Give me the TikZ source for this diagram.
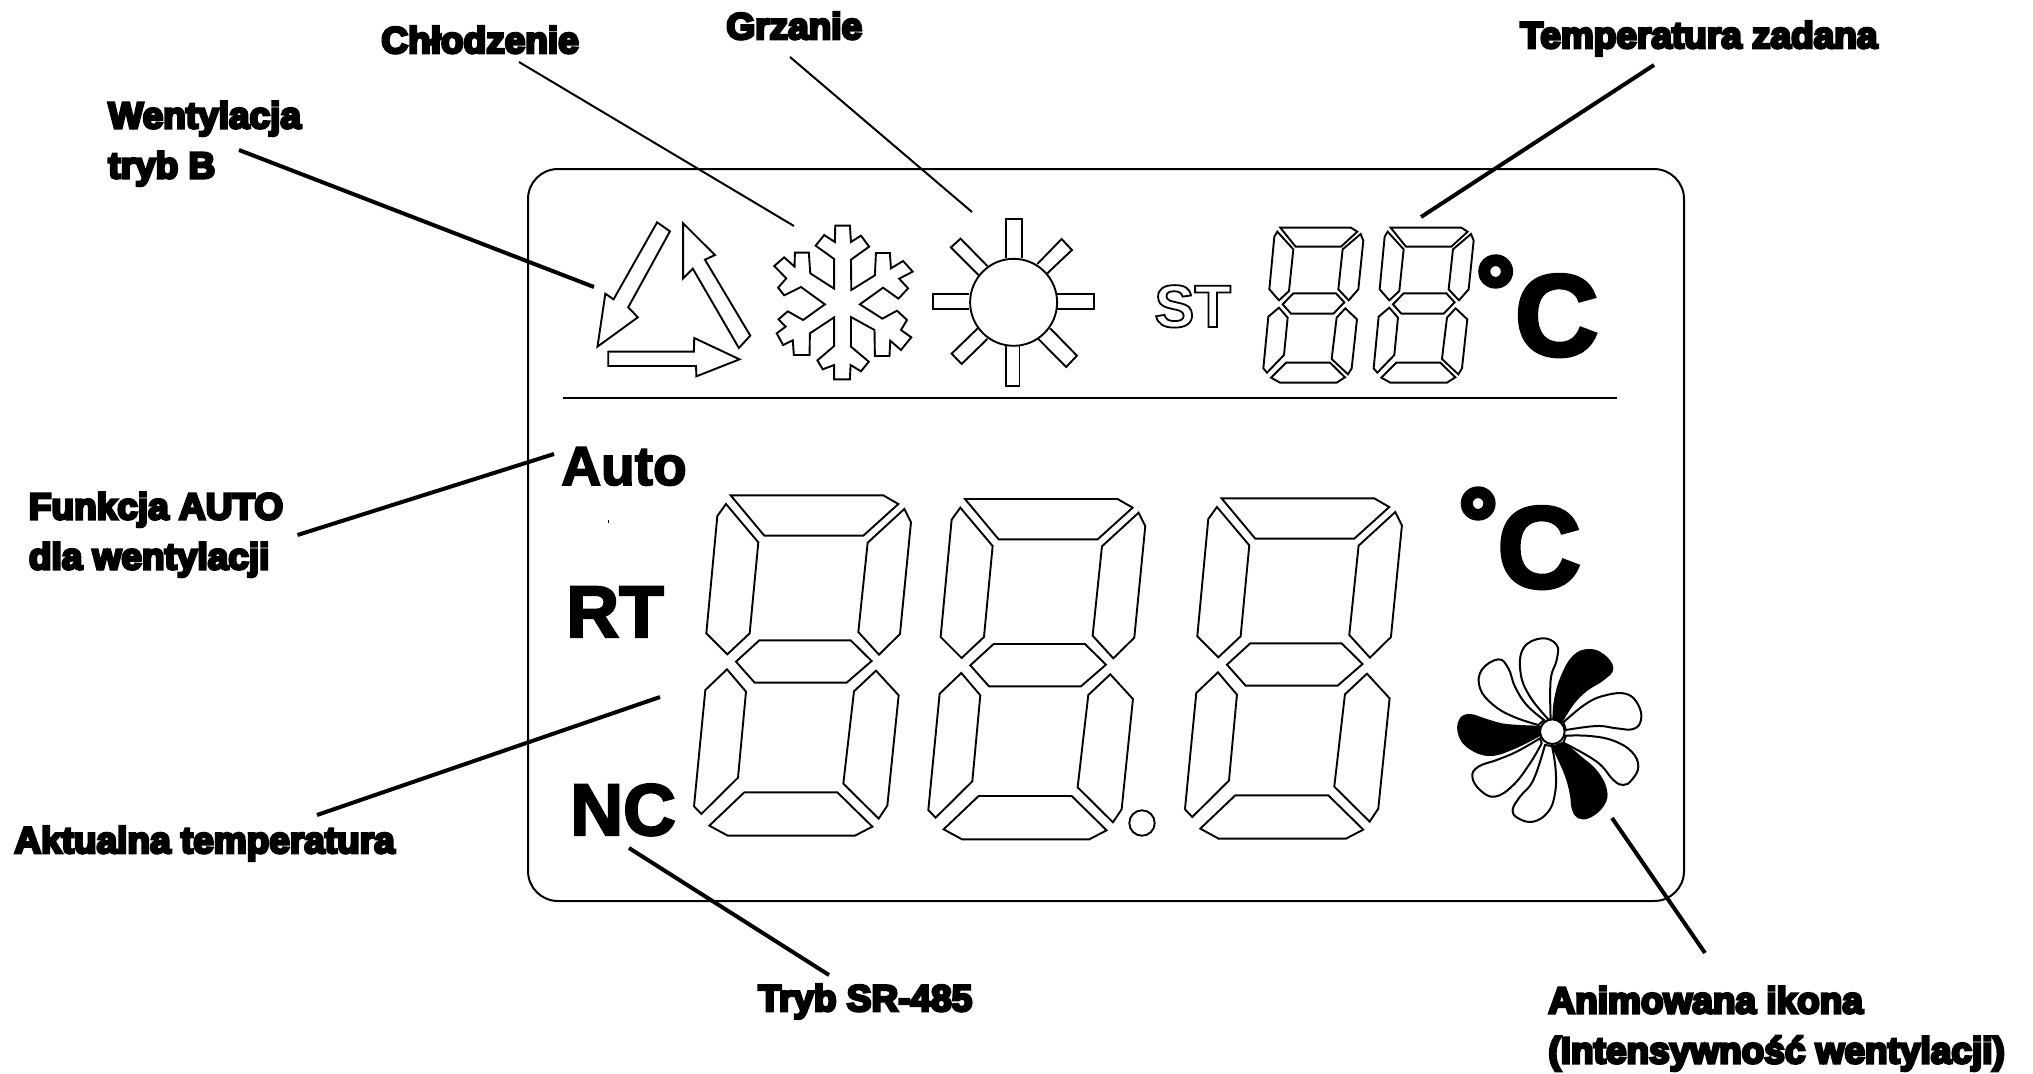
\documentclass[tikz,border=0pt]{standalone}
\usepackage{fontspec}
\setmainfont{Liberation Sans}
\newfontfamily\lblfont{Liberation Sans Bold}[FakeBold=7.5]
\newfontfamily\degfont{Liberation Sans Bold}[FakeBold=5]
\newfontfamily\lcdfont{Liberation Sans Bold}[FakeBold=3]
\newcommand{\degC}{{\degfont\fontsize{48}{48}\selectfont\raisebox{16pt}{°}}C}
\tikzset{
  seg/.style={draw,line width=0.95pt,line join=miter},
  leadthick/.style={line width=2pt},
  leadthin/.style={line width=1pt},
  lbl/.style={inner sep=0pt,anchor=base west,font=\lblfont\fontsize{18.5}{25}\selectfont},
  lbltwo/.style={inner sep=0pt,anchor=north west,align=left,font=\lblfont\fontsize{18.5}{25}\selectfont},
  lcd/.style={inner sep=0pt,anchor=base west,font=\lcdfont\fontsize{#1}{#1}\selectfont},
  petal/.style={draw,line width=1pt,fill=white},
  blackpetal/.style={draw,line width=1pt,fill=black}
}
\begin{document}
\begin{tikzpicture}[x=0.5pt,y=-0.5pt]
\useasboundingbox (0,0) rectangle (2033,1073);
\draw[line width=1pt,rounded corners=15pt] (528,169) rectangle (1684,901);
\draw[line width=1.1pt] (563,398) -- (1617,398);
\fill (607.5,520) rectangle ++(1,3);

\node[lbl] (chlodzenie) at (381,53) {Chłodzenie};
\node[lbl] (grzanie) at (726,39) {Grzanie};
\node[lbltwo] (wentylacja) at (108,101) {Wentylacja\\tryb B};
\node[lbl] (zadana) at (1520,48) {Temperatura zadana};
\node[lbltwo] (funkcja) at (28.5,492) {Funkcja AUTO\\dla wentylacji};
\node[lbl] (aktualna) at (14,853) {Aktualna temperatura};
\node[lbl] (tryb) at (758,1011) {Tryb SR-485};
\node[lbltwo] (animowana) at (1548,986) {Animowana ikona\\(Intensywność wentylacji)};

\node[lcd=27.5] (auto) at (561,485) {Auto};
\node[lcd=36.5] (rt) at (566,637) {RT};
\node[lcd=36.5] (nc) at (570,835) {NC};
\node[lcd=58] (tempzadC) at (1476,355.5) {\degC};
\node[lcd=58] (tempaktC) at (1458.5,587.5) {\degC};
\node[inner sep=0pt,anchor=base west,font=\bfseries\fontsize{30}{30}\selectfont] (st) at (1154,327)
  {\special{pdf:code 1 Tr 0.9 w}ST\special{pdf:code 0 Tr}};

\coordinate (wentylacjaA) at (239,150);
\coordinate (wentylacjaB) at (594,287);
\coordinate (chlodzenieA) at (519,62);
\coordinate (chlodzenieB) at (794,226);
\coordinate (grzanieA) at (790,57);
\coordinate (grzanieB) at (972,212);
\coordinate (zadanaA) at (1654,65);
\coordinate (zadanaB) at (1421,217);
\coordinate (funkcjaA) at (297.5,535);
\coordinate (funkcjaB) at (554,454);
\coordinate (aktualnaA) at (317,815);
\coordinate (aktualnaB) at (660,697);
\coordinate (trybA) at (829,975);
\coordinate (trybB) at (629,848);
\coordinate (animowanaA) at (1705,953);
\coordinate (animowanaB) at (1612,818);
\draw[leadthick] (wentylacjaA) -- (wentylacjaB);
\draw[leadthin] (chlodzenieA) -- (chlodzenieB);
\draw[leadthin] (grzanieA) -- (grzanieB);
\draw[leadthick] (zadanaA) -- (zadanaB);
\draw[leadthick] (funkcjaA) -- (funkcjaB);
\draw[leadthick] (aktualnaA) -- (aktualnaB);
\draw[leadthick] (trybA) -- (trybB);
\draw[leadthick] (animowanaA) -- (animowanaB);

\foreach \dx/\dy in {0/0,703/11,1473/9}{
\begin{scope}[shift={(680,480)},scale=0.3333,shift={(\dx,\dy)}]
\draw[seg] (152,46) -- (610,46) -- (655,72) -- (550,167) -- (253,167) -- cycle;
\draw[seg] (138,72) -- (235,187) -- (209,460) -- (142,523) -- (79,460) -- (112,108) -- cycle;
\draw[seg] (673,87) -- (693,127) -- (660,462) -- (597,524) -- (535,456) -- (563,188) -- cycle;
\draw[seg] (238,481) -- (512,481) -- (575,543) -- (500,608) -- (224,608) -- (168,545) -- cycle;
\draw[seg] (141,568) -- (198,635) -- (174,893) -- (64,1002) -- (42,979) -- (76,630) -- cycle;
\draw[seg] (588,572) -- (656,646) -- (622,977) -- (596,1016) -- (490,911) -- (522,634) -- cycle;
\draw[seg] (193,937) -- (472,937) -- (577,1040) -- (525,1067) -- (143,1067) -- (88,1037) -- cycle;
\end{scope}
}
\draw[seg] (1142,823) circle[radius=12.7];

\foreach \dx in {0,331}{
\begin{scope}[shift={(1120,190)},scale=0.3333,shift={(\dx,0)}]
\draw[seg] (481,113) -- (693,113) -- (712,125) -- (663,170) -- (527,170) -- cycle;
\draw[seg] (472,125) -- (520,178) -- (507,303) -- (477,331) -- (448,298) -- (463,140) -- cycle;
\draw[seg] (722,132) -- (730,152) -- (715,298) -- (686,331) -- (655,298) -- (668,178) -- cycle;
\draw[seg] (520,310) -- (648,310) -- (673,337) -- (640,371) -- (513,371) -- (488,343) -- cycle;
\draw[seg] (477,353) -- (503,383) -- (492,495) -- (441,548) -- (430,535) -- (445,380) -- cycle;
\draw[seg] (676,355) -- (711,388) -- (695,535) -- (684,553) -- (635,507) -- (650,383) -- cycle;
\draw[seg] (498,518) -- (630,518) -- (675,562) -- (650,578) -- (480,578) -- (453,563) -- cycle;
\end{scope}
}

\begin{scope}[shift={(560,190)},xscale=0.357,yscale=0.3333]
\draw[seg] (272,97) -- (308,124) -- (191,352) -- (218,382) -- (105,470) -- (127,311) -- (150,328) -- cycle;
\draw[seg] (345,100) -- (434,195) -- (406,209) -- (533,437) -- (501,474) -- (372,236) -- (345,265) -- cycle;
\draw[seg] (135,485) -- (375,485) -- (376,444) -- (503,508) -- (382,559) -- (381,528) -- (135,528) -- cycle;
\draw[seg] (771,107) -- (812,107) -- (815,156) -- (843,137) -- (866,170) -- (815,209) -- (816,300)
  -- (882,256) -- (885,189) -- (924,189) -- (927,235) -- (961,213) -- (988,245) -- (950,266) -- (975,295)
  -- (948,326) -- (905,293) -- (840,343) -- (903,386) -- (944,362) -- (972,390) -- (955,420) -- (984,442)
  -- (955,480) -- (925,452) -- (923,498) -- (882,498) -- (881,420) -- (815,381) -- (815,470) -- (865,515)
  -- (843,544) -- (814,525) -- (812,568) -- (768,568) -- (768,525) -- (736,538) -- (721,511) -- (768,468)
  -- (768,382) -- (700,430) -- (699,495) -- (655,495) -- (652,451) -- (625,465) -- (607,430) -- (632,410)
  -- (612,388) -- (638,364) -- (681,390) -- (742,343) -- (675,291) -- (628,316) -- (611,293) -- (634,265)
  -- (600,228) -- (628,202) -- (657,230) -- (658,188) -- (697,188) -- (701,250) -- (768,296) -- (768,207)
  -- (716,167) -- (740,135) -- (770,156) -- cycle;
\draw[seg] (1250,205) -- (1250,87) -- (1293,87) -- (1293,205);
\draw[seg] (1392,312) -- (1495,312) -- (1495,356) -- (1392,356);
\draw[seg] (1250,465) -- (1250,589) -- (1287,589) -- (1287,465);
\draw[seg] (1147,312) -- (1045,312) -- (1045,356) -- (1147,356);
\draw[seg] (1337,222) -- (1405,147) -- (1434,180) -- (1365,250);
\draw[seg] (1172,255) -- (1095,172) -- (1122,146) -- (1197,228);
\draw[seg] (1373,415) -- (1448,497) -- (1418,531) -- (1340,447);
\draw[seg] (1170,415) -- (1097,491) -- (1125,522) -- (1197,447);
\end{scope}
\draw[seg] (1013.6,302.3) circle[radius=43.5];

\begin{scope}[shift={(1430,620)},scale=0.3333]
\draw[blackpetal] plot[smooth,tension=0.7] coordinates {(370,305) (375,240) (395,170) (430,110) (475,90) (520,105) (547,145) (520,178) (470,210) (430,250) (395,305)} -- cycle;
\draw[petal] plot[smooth,tension=0.7] coordinates {(400,307) (470,250) (530,225) (590,222) (625,255) (633,300) (610,327) (560,325) (500,318) (408,330)} -- cycle;
\draw[petal] plot[smooth,tension=0.7] coordinates {(408,347) (480,348) (550,362) (605,395) (625,440) (605,480) (580,495) (550,480) (500,425) (400,368)} -- cycle;
\draw[blackpetal] plot[smooth,tension=0.7] coordinates {(400,368) (450,410) (500,455) (528,510) (520,555) (480,590) (445,592) (428,565) (422,520) (405,460) (368,380)} -- cycle;
\draw[petal] plot[smooth,tension=0.7] coordinates {(366,378) (377,450) (375,520) (355,575) (310,605) (265,595) (248,570) (270,530) (310,480) (345,375)} -- cycle;
\draw[petal] plot[smooth,tension=0.7] coordinates {(335,370) (300,430) (250,495) (195,530) (150,510) (127,470) (145,440) (200,420) (260,395) (330,355)} -- cycle;
\draw[blackpetal] plot[smooth,tension=0.7] coordinates {(330,345) (250,385) (180,405) (120,385) (88,345) (90,300) (120,285) (170,300) (230,315) (330,320)} -- cycle;
\draw[petal] plot[smooth,tension=0.7] coordinates {(325,315) (250,290) (190,255) (150,205) (155,150) (205,118) (235,145) (255,200) (290,255) (342,300)} -- cycle;
\draw[petal] plot[smooth,tension=0.7] coordinates {(355,298) (300,230) (272,160) (280,85) (335,55) (380,75) (380,120) (362,180) (362,298)} -- cycle;
\draw[petal] (367,335) circle[radius=37];
\end{scope}
\end{tikzpicture}
\end{document}
